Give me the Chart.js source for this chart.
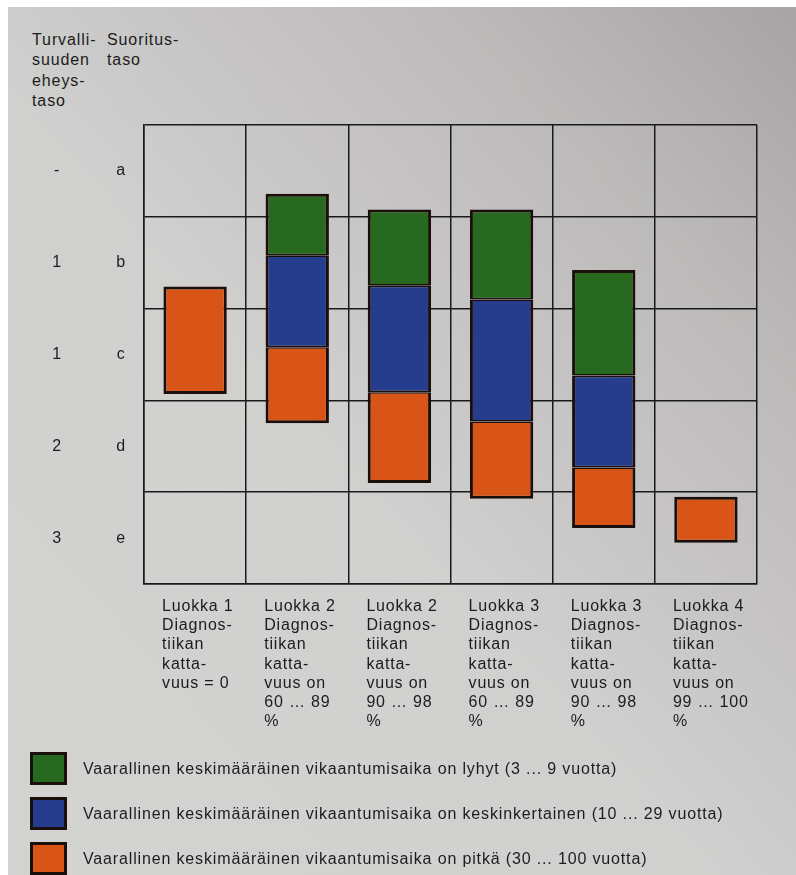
<!DOCTYPE html>
<html>
<head>
<meta charset="utf-8">
<script src="https://cdn.jsdelivr.net/npm/chart.js@4.4.1/dist/chart.umd.min.js"></script>
<style>
  html, body { margin: 0; padding: 0; background: #fff; }
  body { width: 796px; height: 875px; position: relative; overflow: hidden; }
  #paper {
    position: absolute; left: 8px; top: 7px; width: 788px; height: 868px;
    background: linear-gradient(to top right, #d3d3d2 0%, #d0d0cf 45%, #bdbaba 78%, #a8a4a5 100%);
  }
  #wrap { position: absolute; left: 0; top: 0; width: 796px; height: 760px; }
  .head {
    position: absolute; top: 30px;
    font: 16px "Liberation Sans", Arial, sans-serif; letter-spacing: 0.9px;
    line-height: 20.3px; color: #1c1c1c;
  }
  #legend { position: absolute; left: 30px; top: 752px; }
  .item { display: flex; align-items: center; height: 33px; margin-bottom: 12px; }
  .swatch { width: 31px; height: 27px; border: 3px solid #1b0f0b; margin-right: 16px; }
  .item span { font: 16px "Liberation Sans", Arial, sans-serif; letter-spacing: 0.85px; color: #1c1c1c; }
</style>
</head>
<body>
<div id="paper"></div>
<div class="head" style="left:32px">Turvalli-<br>suuden<br>eheys-<br>taso</div>
<div class="head" style="left:107px">Suoritus-<br>taso</div>
<div id="wrap"><canvas id="chart"></canvas></div>
<div id="legend"></div>

<script>
// categories (x axis), multi-line
const categories = [
  ['Luokka 1', 'Diagnos-', 'tiikan', 'katta-', 'vuus = 0'],
  ['Luokka 2', 'Diagnos-', 'tiikan', 'katta-', 'vuus on', '60 … 89', '%'],
  ['Luokka 2', 'Diagnos-', 'tiikan', 'katta-', 'vuus on', '90 … 98', '%'],
  ['Luokka 3', 'Diagnos-', 'tiikan', 'katta-', 'vuus on', '60 … 89', '%'],
  ['Luokka 3', 'Diagnos-', 'tiikan', 'katta-', 'vuus on', '90 … 98', '%'],
  ['Luokka 4', 'Diagnos-', 'tiikan', 'katta-', 'vuus on', '99 … 100', '%']
];

// row labels, top to bottom
const plLabels  = ['a', 'b', 'c', 'd', 'e'];
const silLabels = ['-', '1', '1', '2', '3'];

// floating bars [low, high], 0 = bottom of row e, 5 = top of row a
const shortMttfd  = [null, [3.58, 4.25], [3.25, 4.08], [3.10, 4.08], [2.27, 3.42], null];
const mediumMttfd = [null, [2.58, 3.58], [2.09, 3.25], [1.77, 3.10], [1.27, 2.27], null];
const longMttfd   = [[2.07, 3.24], [1.75, 2.58], [1.10, 2.09], [0.93, 1.77], [0.61, 1.27], [0.45, 0.95]];

const legendLabels = [
  'Vaarallinen keskimääräinen vikaantumisaika on lyhyt (3 ... 9 vuotta)',
  'Vaarallinen keskimääräinen vikaantumisaika on keskinkertainen (10 ... 29 vuotta)',
  'Vaarallinen keskimääräinen vikaantumisaika on pitkä (30 ... 100 vuotta)'
];
const colors = ['#27691e', '#263d8e', '#d95517'];

const series = [shortMttfd, mediumMttfd, longMttfd];
const font = { family: '"Liberation Sans", Arial, sans-serif', size: 16 };

// thinner border where two segments touch
function borderFor(ctx) {
  const d = ctx.datasetIndex, i = ctx.dataIndex;
  const above = d > 0 && series[d - 1][i];
  const below = d < series.length - 1 && series[d + 1][i];
  return { left: 3, right: 3, top: above ? 1.6 : 3, bottom: below ? 1.6 : 3 };
}

function rowTicks(scale) {
  scale.ticks = plLabels.map((l, i) => ({ value: plLabels.length - 0.5 - i }));
}

// the printed labels are a bit spaced out
const spacing = {
  id: 'spacing',
  beforeLayout(chart) { chart.ctx.letterSpacing = '0.8px'; },
  beforeDraw(chart) { chart.ctx.letterSpacing = '0.8px'; }
};

const chart = new Chart(document.getElementById('chart'), {
  type: 'bar',
  data: {
    labels: categories,
    datasets: series.map((s, k) => ({
      label: legendLabels[k],
      data: s,
      backgroundColor: colors[k],
      borderColor: '#1b0f0b',
      borderWidth: borderFor,
      borderSkipped: false,
      grouped: false,
      barPercentage: 0.62,
      categoryPercentage: 1
    }))
  },
  plugins: [spacing],
  options: {
    responsive: true,
    maintainAspectRatio: false,
    animation: false,
    layout: { padding: { top: 125, right: 39, left: 0, bottom: 16 } },
    plugins: { legend: { display: false }, tooltip: { enabled: false } },
    scales: {
      x: {
        grid: { color: '#1a1a1a', lineWidth: 1.5, drawTicks: false },
        border: { color: '#1a1a1a', width: 1.5 },
        ticks: {
          color: '#1c1c1c', font: { ...font, lineHeight: '19.2px' },
          align: 'start', labelOffset: -33, padding: 13,
          maxRotation: 0, autoSkip: false
        },
        afterFit: (axis) => {
          axis.height = 160;
          axis.paddingLeft = 0;
          axis.paddingRight = 0;
        }
      },
      y: {
        min: 0, max: 5, weight: 0,
        ticks: { display: false, stepSize: 1 },
        grid: { color: '#1a1a1a', lineWidth: 1.5, drawTicks: false },
        border: { color: '#1a1a1a', width: 1.5 },
        afterFit: (axis) => { axis.width = 0; }
      },
      pl: {
        type: 'linear', position: 'left', min: 0, max: 5, weight: 1,
        grid: { display: false, drawTicks: false }, border: { display: false },
        afterBuildTicks: rowTicks,
        ticks: {
          color: '#1c1c1c', font, crossAlign: 'center', padding: 18,
          callback: (v) => plLabels[Math.round(plLabels.length - 0.5 - v)]
        },
        afterFit: (axis) => { axis.width = 56; }
      },
      sil: {
        type: 'linear', position: 'left', min: 0, max: 5, weight: 2,
        grid: { display: false, drawTicks: false }, border: { display: false },
        afterBuildTicks: rowTicks,
        ticks: {
          color: '#1c1c1c', font, crossAlign: 'center', padding: 26,
          callback: (v) => silLabels[Math.round(silLabels.length - 0.5 - v)]
        },
        afterFit: (axis) => { axis.width = 88; }
      }
    }
  }
});

// legend, one row per dataset
const legend = document.getElementById('legend');
chart.data.datasets.forEach(ds => {
  const row = document.createElement('div');
  row.className = 'item';
  row.innerHTML = '<div class="swatch" style="background:' + ds.backgroundColor + '"></div><span>' + ds.label + '</span>';
  legend.appendChild(row);
});
</script>
</body>
</html>
